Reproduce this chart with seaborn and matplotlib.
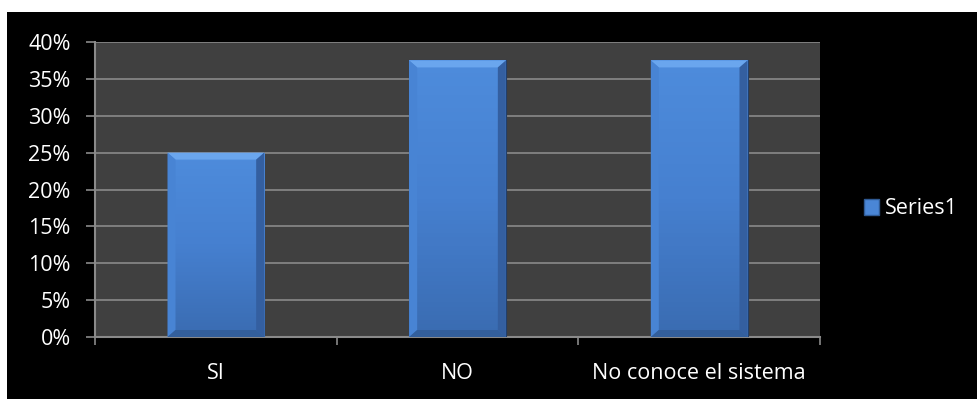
import numpy as np
import pandas as pd
import matplotlib
matplotlib.use("Agg")
import matplotlib.pyplot as plt
from matplotlib.patches import Rectangle, Polygon
from matplotlib.colors import LinearSegmentedColormap
from matplotlib.ticker import PercentFormatter, FixedLocator
import seaborn as sns

categories = ["SI", "NO", "No conoce el sistema"]
series1 = [0.25, 0.375, 0.375]
series_name = "Series1"
y_ticks = [0.0, 0.05, 0.10, 0.15, 0.20, 0.25, 0.30, 0.35, 0.40]

df = pd.DataFrame({"categoria": categories, "valor": series1})

sns.set_theme(style="dark")
plt.rcParams["font.family"] = ["Open Sans", "DejaVu Sans"]
FS = 15.5

W, H = 978, 399
fig = plt.figure(figsize=(W / 100, H / 100), dpi=100, facecolor="white")

# black chart area framed by a thin white margin
fig.patches.append(Rectangle((7 / W, 0), 1 - 7 / W, 1 - 12 / H, transform=fig.transFigure,
                             facecolor="black", edgecolor="none", zorder=-10))

ax = fig.add_axes([95 / W, (H - 337) / H, (820 - 95) / W, (337 - 42) / H])
ax.set_facecolor("#404040")

bar_face = "#4a86d6"
sns.barplot(data=df, x="categoria", y="valor", color=bar_face, width=0.4,
            saturation=1, ax=ax, zorder=3, label=series_name)
if ax.get_legend() is not None:
    ax.get_legend().remove()

ax.set_xlim(-0.5, len(categories) - 0.5)
ax.set_ylim(0, 0.40)
ax.set_yticks(y_ticks)
ax.yaxis.set_major_formatter(PercentFormatter(1.0, decimals=0))
ax.set_xlabel("")
ax.set_ylabel("")

grid_col = "#8a8a8a"
ax.grid(axis="y", color=grid_col, linewidth=1.2, zorder=1)
ax.grid(axis="x", visible=False)
for side in ["top", "right"]:
    ax.spines[side].set_visible(False)
for side in ["left", "bottom"]:
    ax.spines[side].set_visible(True)
    ax.spines[side].set_color(grid_col)
    ax.spines[side].set_linewidth(1.5)

ax.tick_params(axis="y", colors="white", labelsize=FS, length=6.5, width=1.2,
               color=grid_col, pad=11, left=True)
ax.tick_params(axis="x", which="major", colors="white", labelsize=FS, length=0, pad=19)
ax.xaxis.set_minor_locator(FixedLocator(np.arange(-0.5, len(categories), 1.0)))
ax.tick_params(axis="x", which="minor", length=6, width=1.2, color=grid_col, bottom=True)
for lab in ax.get_xticklabels() + ax.get_yticklabels():
    lab.set_color("white")

# bevelled gradient fill on every bar
grad = LinearSegmentedColormap.from_list("bar", ["#3a6cb2", "#4680d0", "#4e8cdc"])
fig.canvas.draw()
inv = ax.transData.inverted()
for p in list(ax.patches):
    x0, y0 = p.get_x(), p.get_y()
    x1, y1 = x0 + p.get_width(), y0 + p.get_height()
    img = ax.imshow(np.linspace(0, 1, 64).reshape(-1, 1), cmap=grad, aspect="auto",
                    extent=(x0, x1, y0, y1), origin="lower", zorder=3.5)
    img.set_clip_path(p)
    (px0, py0) = ax.transData.transform((x0, y0))
    (px1, py1) = ax.transData.transform((x1, y1))
    bx, by = 8, 7
    def d(pts):
        return inv.transform(pts)
    outer = [(px0, py0), (px1, py0), (px1, py1), (px0, py1)]
    inner = [(px0 + bx, py0 + by), (px1 - bx, py0 + by), (px1 - bx, py1 - by), (px0 + bx, py1 - by)]
    faces = [
        ([outer[3], outer[2], inner[2], inner[3]], "#6aa6ee"),  # top
        ([outer[0], outer[3], inner[3], inner[0]], "#4884d4"),  # left
        ([outer[1], outer[2], inner[2], inner[1]], "#345fa0"),  # right
        ([outer[0], outer[1], inner[1], inner[0]], "#335f9c"),  # bottom
    ]
    for pts, col in faces:
        ax.add_patch(Polygon(d(pts), closed=True, facecolor=col, edgecolor="none", zorder=4))
    p.set_edgecolor("#223f6a")
    p.set_linewidth(0.8)
ax.set_xlim(-0.5, len(categories) - 0.5)
ax.set_ylim(0, 0.40)

# legend entry
handle = Rectangle((0, 0), 1, 1, facecolor="#4a86d6", edgecolor="#2f5a94", linewidth=1)
fig.legend([handle], [series_name], loc="center left", bbox_to_anchor=(855 / W, 1 - 209 / H),
           frameon=False, fontsize=FS, labelcolor="white", handlelength=0.7,
           handleheight=0.7, handletextpad=0.3, borderaxespad=0)

fig.savefig("out.png", dpi=100, facecolor="white")
